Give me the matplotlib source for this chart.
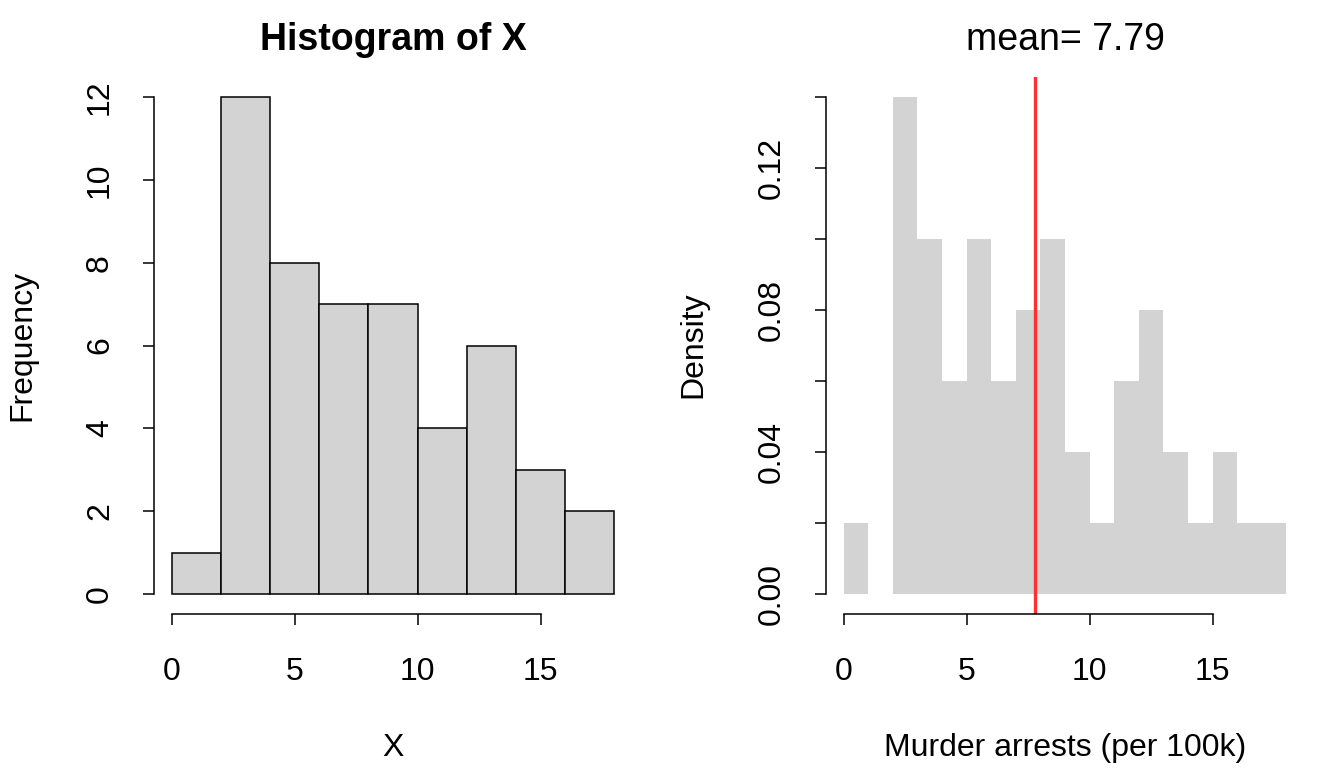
import numpy as np
import matplotlib.pyplot as plt

plt.rcParams['font.family'] = ['Liberation Sans', 'DejaVu Sans']

# left panel: counts in bins of width 2
freq_edges = [0, 2, 4, 6, 8, 10, 12, 14, 16, 18]
freq_counts = [1, 12, 8, 7, 7, 4, 6, 3, 2]

# right panel: density in bins of width 1
dens_edges = list(range(0, 19))
dens_values = [0.02, 0.00, 0.14, 0.10, 0.06, 0.10, 0.06, 0.08, 0.10,
               0.04, 0.02, 0.06, 0.08, 0.04, 0.02, 0.04, 0.02, 0.02]
mean_murder = 7.788

W, H = 1344, 768
fig = plt.figure(figsize=(W / 100, H / 100), dpi=100)

def px_axes(x0, x1, ytop, ybot):
    return fig.add_axes([x0 / W, 1 - ybot / H, (x1 - x0) / W, (ybot - ytop) / H])

def r_style(ax, xb, yb):
    for s in ['top', 'right']:
        ax.spines[s].set_visible(False)
    ax.spines['bottom'].set_bounds(*xb)
    ax.spines['left'].set_bounds(*yb)
    for s in ['bottom', 'left']:
        ax.spines[s].set_linewidth(1.1)
    ax.tick_params(length=8, width=1.1, labelsize=23)
    ax.tick_params(axis='x', pad=23)
    ax.tick_params(axis='y', pad=20)
    for lab in ax.get_yticklabels():
        lab.set_rotation(90)
        lab.set_va('center')

# ---- left: frequency histogram
ax1 = px_axes(154, 632, 77, 614)
lefts = np.array(freq_edges[:-1])
widths = np.diff(freq_edges)
ax1.bar(lefts, freq_counts, width=widths, align='edge', color='#d3d3d3',
        edgecolor='black', linewidth=1.1)
ax1.set_xlim(-0.72, 18.72)
ax1.set_ylim(-0.48, 12.48)
ax1.set_xticks([0, 5, 10, 15])
ax1.set_yticks([0, 2, 4, 6, 8, 10, 12])
r_style(ax1, (0, 15), (0, 12))
fig.text(393 / W, 1 - 40 / H, 'Histogram of X', ha='center', va='center',
         fontsize=27, fontweight='bold')
fig.text(393 / W, 1 - 748 / H, 'X', ha='center', va='center', fontsize=23)
fig.text(22 / W, 1 - 345 / H, 'Frequency', ha='center', va='center',
         fontsize=23, rotation=90)

# ---- right: density histogram with mean line
ax2 = px_axes(826, 1304, 77, 614)
lefts2 = np.array(dens_edges[:-1])
widths2 = np.diff(dens_edges)
ax2.bar(lefts2, dens_values, width=widths2, align='edge', color='#d3d3d3',
        linewidth=0)
ax2.axvline(mean_murder, color='#ff3030', linewidth=2.4)
ax2.set_xlim(-0.72, 18.72)
ax2.set_ylim(-0.0056, 0.1456)
ax2.set_xticks([0, 5, 10, 15])
yt = np.round(np.arange(0, 0.141, 0.02), 2)
ax2.set_yticks(yt)
ax2.set_yticklabels([f'{v:.2f}' if i % 2 == 0 else '' for i, v in enumerate(yt)])
r_style(ax2, (0, 15), (0, 0.14))
fig.text(1065 / W, 1 - 40 / H, f'mean= {mean_murder:.2f}', ha='center',
         va='center', fontsize=27)
fig.text(1065 / W, 1 - 748 / H, 'Murder arrests (per 100k)', ha='center',
         va='center', fontsize=23)
fig.text(693 / W, 1 - 345 / H, 'Density', ha='center', va='center',
         fontsize=23, rotation=90)

fig.savefig('out.png', dpi=100)
